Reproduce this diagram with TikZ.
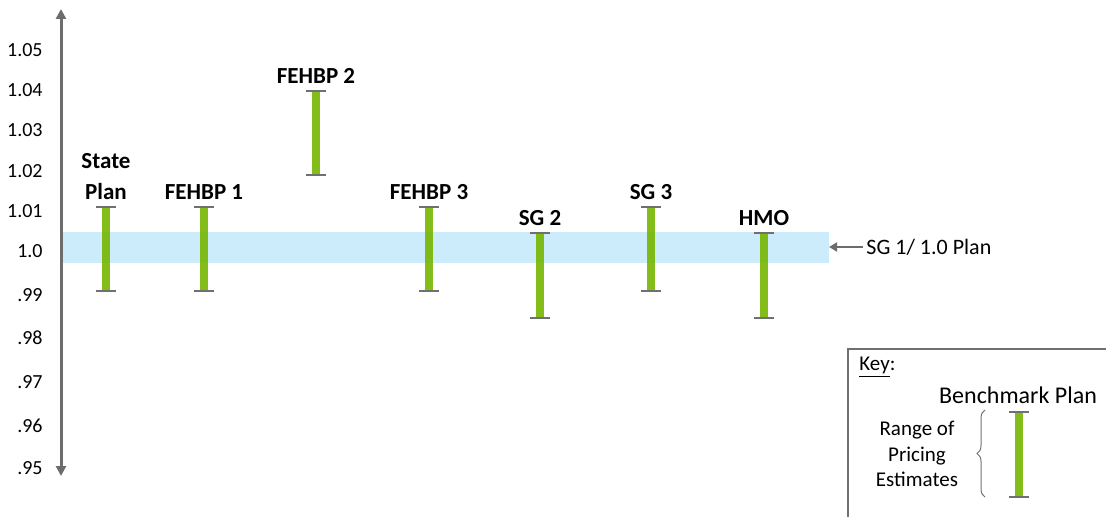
\documentclass[tikz,border=0pt]{standalone}
\usepackage{fontspec}
\setmainfont{Carlito}
\usetikzlibrary{arrows.meta}
\usetikzlibrary{decorations.pathreplacing}
\pgfdeclarelayer{bandlayer}
\pgfdeclarelayer{barlayer}
\pgfsetlayers{bandlayer,barlayer,main}
\definecolor{bargreen}{RGB}{118,182,0}
\definecolor{capgray}{RGB}{112,112,112}
\definecolor{axisgray}{RGB}{108,108,108}
\definecolor{bandblue}{RGB}{204,235,251}
\tikzset{rangebar/.style={draw=bargreen, line width=4pt, draw opacity=0.9},
  rangecap/.style={draw=capgray, line width=1pt},
  planlabel/.style={font=\fontsize{11.5}{15.5}\selectfont\bfseries, align=center, anchor=south, inner sep=0pt},
  ticklabel/.style={font=\fontsize{10}{12}\selectfont, anchor=east, inner sep=0pt},
  keytext/.style={font=\fontsize{10.5}{12.75}\selectfont, align=center, inner sep=0pt}}

\begin{document}
\begin{tikzpicture}[x=0.5pt,y=-0.5pt]
	\useasboundingbox (0,0) rectangle (1106,517);
	% axis
	\coordinate (axtop) at (61,9);
	\coordinate (axbot) at (61,476);
	\draw[axisgray, line width=1.5pt, {Triangle[width=5pt,length=5pt]}-{Triangle[width=5pt,length=5pt]}] (axbot) -- (axtop);
	\foreach \v/\y in {1.05/50, 1.04/90, 1.03/130, 1.02/171, 1.01/211, 1.0/251, .99/295, .98/338, .97/382, .96/426, .95/468}
		\node[ticklabel] (tick\y) at (43,\y) {\v};
	% plans
	\foreach \n/\x/\t/\b/\lab in {state/106/207/291/{State\\Plan}, fehbpa/204/207/291/FEHBP 1, fehbpb/316/91/175/FEHBP 2, fehbpc/429/207/291/FEHBP 3, sgb/540/233/318/SG 2, sgc/651/207/291/SG 3, hmo/764/233/318/HMO}{
		\coordinate (\n top) at (\x,\t);
		\coordinate (\n bot) at (\x,\b);
		\begin{pgfonlayer}{barlayer}
			\draw[rangebar] (\n top) -- (\n bot);
		\end{pgfonlayer}
		\draw[rangecap] ([xshift=-5pt]\n top) -- ([xshift=5pt]\n top);
		\draw[rangecap] ([xshift=-5pt]\n bot) -- ([xshift=5pt]\n bot);
		\node[planlabel] (\n lab) at ([yshift=3.5pt]\n top) {\lab};
	}
	% 1.0 band
	\begin{pgfonlayer}{bandlayer}
		\fill[bandblue] (63,232) rectangle (829,263);
	\end{pgfonlayer}
	\coordinate (bandend) at (829,247);
	\node[anchor=west, inner sep=1.5pt, font=\fontsize{11}{13}\selectfont] (sgone) at (863,247) {SG 1/ 1.0 Plan};
	\draw[axisgray, line width=1pt, -{Triangle[width=4.5pt,length=4pt]}] (sgone.west) -- (bandend);
	% key
	\draw[capgray, line width=0.8pt] (848,517) -- (848,349) -- (1106,349);
	\node[anchor=west, inner sep=0pt, font=\fontsize{10.5}{12}\selectfont] (keyhead) at (859,367) {\underline{Key}:};
	\node[inner sep=0pt, font=\fontsize{12}{14}\selectfont] (keytitle) at (1018,395) {Benchmark Plan};
	\coordinate (keytop) at (1019,412);
	\coordinate (keybot) at (1019,497);
	\draw[rangebar] (keytop) -- (keybot);
	\draw[rangecap] ([xshift=-5pt]keytop) -- ([xshift=5pt]keytop);
	\draw[rangecap] ([xshift=-5pt]keybot) -- ([xshift=5pt]keybot);
	\draw[capgray, line width=0.5pt, decorate, decoration={brace, amplitude=4pt}] (985,497) -- (985,410);
	\node[keytext] (keynote) at (917,454) {Range of\\Pricing\\Estimates};
\end{tikzpicture}
\end{document}
